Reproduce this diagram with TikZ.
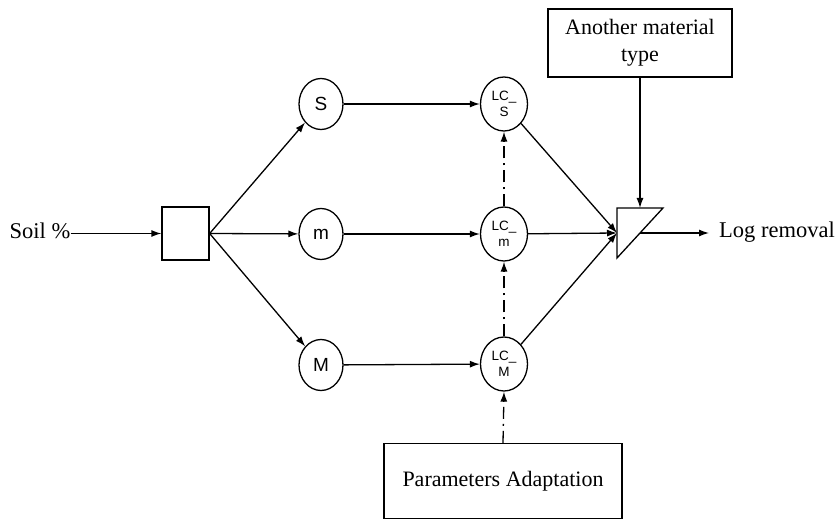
\documentclass[tikz,border=0pt]{standalone}
\usepackage{fontspec}
\setmainfont{Liberation Serif}
\newfontfamily\circfont{Liberation Sans}
\usetikzlibrary{arrows.meta,shapes.geometric}
\tikzset{
  arr/.style={line width=1.3pt,-{Latex[length=10pt,width=7pt]}},
  dda/.style={line width=1.3pt,dash pattern=on 12pt off 5pt on 2pt off 5pt,-{Latex[length=10pt,width=7pt]}},
  lbl/.style={font=\fontsize{22.5}{26}\selectfont,inner sep=0pt},
  blk/.style={draw,line width=1.3pt,inner sep=0pt,align=center,font=\fontsize{22}{27}\selectfont},
  cir/.style={draw,ellipse,line width=1.3pt,minimum width=44pt,minimum height=51pt,inner sep=0pt,font=\circfont\fontsize{19}{20}\selectfont},
  lc/.style={draw,ellipse,line width=1.3pt,minimum width=47pt,minimum height=54pt,inner sep=0pt,align=center,font=\circfont\fontsize{13.5}{16}\selectfont},
}
\begin{document}
\begin{tikzpicture}[x=1pt,y=-1pt]
\useasboundingbox (0,0) rectangle (835,521);
% labels
\node[lbl,anchor=base] (soil) at (40,239) {Soil \%};
\node[lbl,anchor=base west] (log) at (719,238) {Log removal};
% input box
\node[draw,line width=1.3pt,minimum width=47pt,minimum height=53pt,inner sep=0pt] (box) at (185.5,233.5) {};
% circles
\node[cir] (S) at (321,104) {S};
\node[cir] (m) at (321,234) {m};
\node[cir] (M) at (321,365) {M};
\node[lc] (LCS) at (504,104) {LC\_\\S};
\node[lc] (LCm) at (504,234) {LC\_\\m};
\node[lc] (LCM) at (504,364) {LC\_\\M};
% boxes
\node[blk,minimum width=184pt,minimum height=68pt] (amt) at (640,43) {Another material\\type};
\node[blk,minimum width=238pt,minimum height=75pt] (pa) at (503,481) {Parameters Adaptation};
% triangle
\coordinate (ttl) at (617,208);
\coordinate (ttr) at (663,208);
\coordinate (tbl) at (617,258);
\coordinate (tin) at (617,233);
\coordinate (tout) at (640,233);
\coordinate (ttop) at (640,208);
\coordinate (logend) at (709,233);
\draw[line width=1.3pt,line join=miter] (ttl) -- (ttr) -- (tbl) -- cycle;
% connectors
\draw[arr] (soil.east |- box.west) -- (box.west);
\draw[arr] (box.east) -- (S);
\draw[arr] (box.east) -- (m);
\draw[arr] (box.east) -- (M);
\draw[arr] (S) -- (LCS);
\draw[arr] (m) -- (LCm);
\draw[arr] (M) -- (LCM);
\draw[arr] (LCS) -- (tin);
\draw[arr] (LCm) -- (tin);
\draw[arr] (LCM) -- (tin);
\draw[arr] (tout) -- (logend);
\draw[arr] (amt.south) -- (ttop);
\draw[dda] (LCm.north) -- (LCS.south);
\draw[dda] (LCM.north) -- (LCm.south);
\draw[dda] (pa.north) -- (LCM.south);
\end{tikzpicture}
\end{document}
